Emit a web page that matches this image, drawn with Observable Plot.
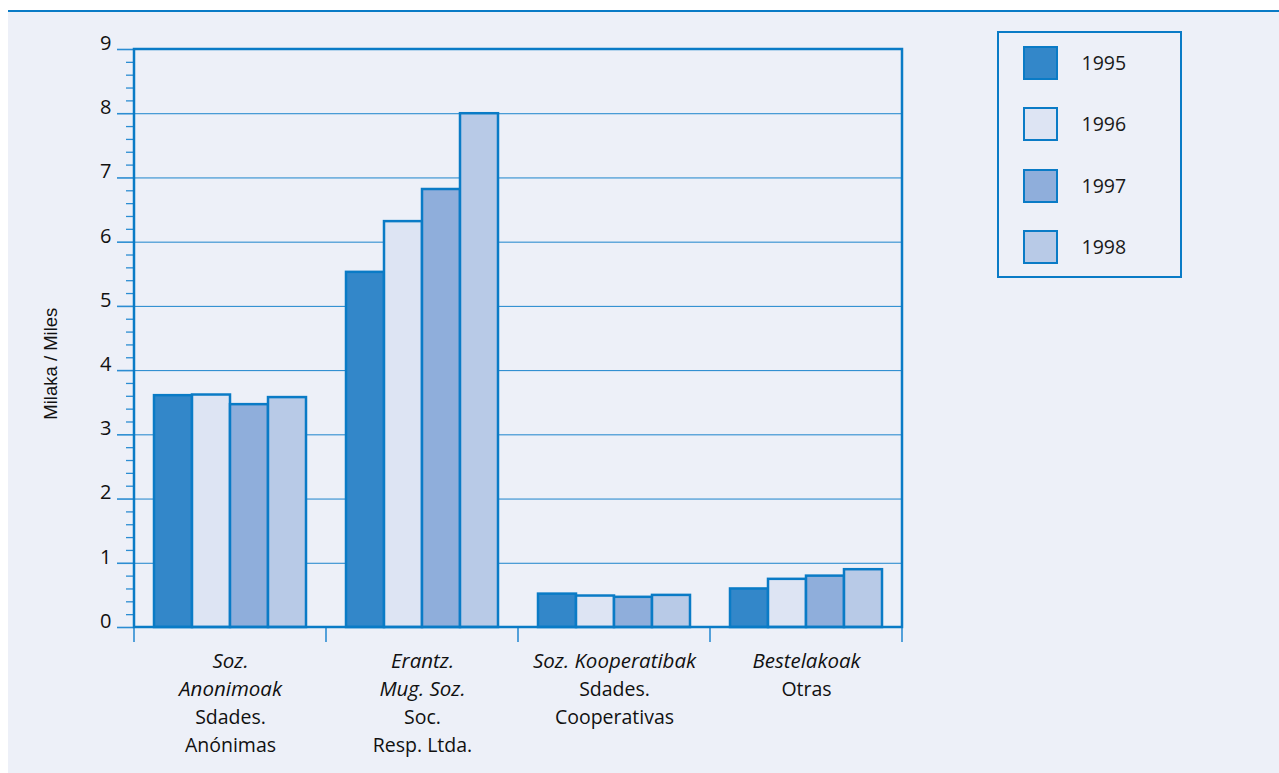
<!DOCTYPE html>
<html>
<head>
<meta charset="utf-8">
<script src="https://cdn.jsdelivr.net/npm/d3@7"></script>
<script src="https://cdn.jsdelivr.net/npm/@observablehq/plot@0.6"></script>
<style>
  html, body { margin: 0; padding: 0; background: #ffffff; }
  #panel { position: absolute; left: 8px; top: 10px; width: 1271px; height: 763px; background: #EDF0F8; border-top: 2.5px solid #0A7BC6; box-sizing: border-box; }
  #chart { position: absolute; left: 0; top: 0; }
  #legend { position: absolute; left: 997px; top: 31px; width: 185px; height: 247px; border: 2.5px solid #0A7BC6; box-sizing: border-box; font-family: 'Open Sans', sans-serif; font-size: 19.5px; color: #1a1a1a; }
  .sw { position: absolute; left: 23.5px; width: 35px; height: 34px; border: 2.5px solid #0A7BC6; box-sizing: border-box; }
  .lb { position: absolute; left: 82.5px; line-height: 34px; }
</style>
</head>
<body>
<div id="panel"></div>
<div id="chart"></div>
<div id="legend"></div>
<script>
// ---- data ----
const categories = ["SA", "SRL", "COOP", "OTRAS"];
const labelsEu = ["Soz.\nAnonimoak", "Erantz.\nMug. Soz.", "Soz. Kooperatibak", "Bestelakoak"];
const labelsEs = ["Sdades.\nAnónimas", "Soc.\nResp. Ltda.", "Sdades.\nCooperativas", "Otras"];
const years = ["1995", "1996", "1997", "1998"];
const v1995 = [3.61, 5.53, 0.52, 0.60];
const v1996 = [3.62, 6.32, 0.49, 0.75];
const v1997 = [3.47, 6.82, 0.47, 0.80];
const v1998 = [3.58, 8.00, 0.50, 0.90];
const colors = ["#3387C9", "#DDE4F3", "#8FAEDB", "#B8CAE7"];
const yTicks = [0, 1, 2, 3, 4, 5, 6, 7, 8, 9];
const yLabel = "Milaka / Miles";

// ---- build tables ----
const series = [v1995, v1996, v1997, v1998];
const rows = [];
categories.forEach((c, i) => years.forEach((yr, j) => rows.push({cat: c, year: yr, value: series[j][i]})));
const labelRows = categories.map((c, i) => ({cat: c, eu: labelsEu[i], es: labelsEs[i]}));
const minorTicks = d3.range(0, 45).map(i => i / 5).filter(v => Math.abs(v - Math.round(v)) > 1e-6);

const blue = "#0A7BC6";
const tickBlue = "#2C8DD2";
const gridBlue = "#1C84CC";
const font = "'Open Sans', sans-serif";
const lineGap = 28; // px between label lines
const euSize = 20.5, esSize = 19.5;

const plot = Plot.plot({
  width: 1279,
  height: 773,
  marginLeft: 134,
  marginRight: 377,
  marginTop: 49,
  marginBottom: 146,
  style: {background: "transparent", fontFamily: font, overflow: "visible"},
  fx: {domain: categories, padding: 0, axis: null},
  x: {domain: years, paddingInner: 0, paddingOuter: 0.5, axis: null},
  y: {domain: [0, 9]},
  color: {domain: years, range: colors},
  marks: [
    Plot.gridY(yTicks.filter(v => v > 0 && v < 9), {stroke: gridBlue, strokeOpacity: 1, strokeWidth: 1}),
    Plot.barY(rows, {fx: "cat", x: "year", y: "value", fill: "year", stroke: blue, strokeWidth: 2.5}),
    Plot.axisY(minorTicks, {tickSize: 8, text: null, stroke: tickBlue, strokeWidth: 1.3, label: null}),
    Plot.axisY(yTicks, {tickSize: 17, text: null, stroke: tickBlue, strokeWidth: 1.6, label: null}),
    Plot.axisY(yTicks, {tickSize: 0, tickPadding: 23, dy: -6, fill: "#111", fontSize: 20, tickFormat: d => String(d), label: null}),
    Plot.text(labelRows, {fx: "cat", text: "eu", frameAnchor: "bottom", lineAnchor: "top", dy: 20.5, fontStyle: "italic", fontSize: euSize, lineHeight: lineGap / euSize, fill: "#111"}),
    Plot.text(labelRows, {fx: "cat", text: d => "\u00a0\n".repeat(d.eu.split("\n").length) + d.es, frameAnchor: "bottom", lineAnchor: "top", dy: 21, fontSize: esSize, lineHeight: lineGap / esSize, fill: "#111"})
  ]
});

// ---- frame, category dividers and y label, positioned through the plot's scales ----
const fx = plot.scale("fx");
const ys = plot.scale("y");
const svg = d3.select(plot);
const left = fx.apply(categories[0]);
const right = fx.apply(categories[categories.length - 1]) + fx.bandwidth;
const y0 = ys.apply(0), y9 = ys.apply(9);
const g = svg.append("g");
const bounds = categories.map(c => fx.apply(c)).concat([right]);
g.selectAll("line.div").data(bounds).join("line")
  .attr("x1", d => d).attr("x2", d => d)
  .attr("y1", y0).attr("y2", y0 + 15)
  .attr("stroke", tickBlue).attr("stroke-width", 1.6);
g.append("path")
  .attr("d", `M${left},${y0}V${y9}H${right}V${y0}Z`)
  .attr("fill", "none").attr("stroke", blue).attr("stroke-width", 2.5);
svg.append("text")
  .attr("transform", `translate(52,${ys.apply(4.1)}) rotate(-90)`)
  .attr("text-anchor", "middle").attr("dominant-baseline", "middle")
  .attr("font-family", "'Liberation Sans', Arial, sans-serif").attr("font-size", 18.5).attr("fill", "#111")
  .text(yLabel);

document.getElementById("chart").appendChild(plot);

// ---- legend ----
const legend = d3.select("#legend");
const rowTops = [12.5, 73.5, 135.5, 196.5];
years.forEach((yr, i) => {
  legend.append("div").attr("class", "sw").style("top", rowTops[i] + "px").style("background", colors[i]);
  legend.append("div").attr("class", "lb").style("top", rowTops[i] + "px").text(yr);
});
</script>
</body>
</html>
